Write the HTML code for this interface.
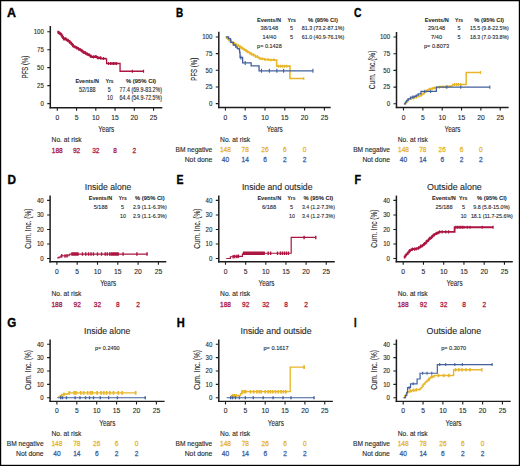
<!DOCTYPE html>
<html><head><meta charset="utf-8"><title>Figure</title>
<style>html,body{margin:0;padding:0;background:#fff;width:520px;height:466px;overflow:hidden}
svg{display:block;font-family:"Liberation Sans",sans-serif}</style></head>
<body>
<svg width="520" height="466" viewBox="0 0 520 466" font-family="Liberation Sans, sans-serif">
<rect x="0" y="0" width="520" height="466" fill="#fff"/>
<text x="7.00" y="17.00" font-size="12.2" textLength="9.00" lengthAdjust="spacingAndGlyphs" font-weight="bold" fill="#000" stroke="#000" stroke-width="0.35">A</text>
<path d="M50.30,26.00V108.38" stroke="#1c1c1c" stroke-width="1.5" fill="none"/>
<path d="M49.55,107.70H162.30" stroke="#1c1c1c" stroke-width="1.35" fill="none"/>
<path d="M47.30,103.60H50.30M47.30,85.64H50.30M47.30,67.67H50.30M47.30,49.71H50.30M47.30,31.75H50.30M57.30,107.70V110.70M76.55,107.70V110.70M95.80,107.70V110.70M115.05,107.70V110.70M134.30,107.70V110.70M153.55,107.70V110.70" stroke="#1c1c1c" stroke-width="1.1" fill="none"/>
<text x="43.90" y="105.90" font-size="6.5" text-anchor="end" stroke="#2a2a2a" stroke-width="0.12" textLength="3.40" lengthAdjust="spacingAndGlyphs" fill="#2a2a2a">0</text>
<text x="43.90" y="87.94" font-size="6.5" text-anchor="end" stroke="#2a2a2a" stroke-width="0.12" textLength="6.80" lengthAdjust="spacingAndGlyphs" fill="#2a2a2a">25</text>
<text x="43.90" y="69.97" font-size="6.5" text-anchor="end" stroke="#2a2a2a" stroke-width="0.12" textLength="6.80" lengthAdjust="spacingAndGlyphs" fill="#2a2a2a">50</text>
<text x="43.90" y="52.01" font-size="6.5" text-anchor="end" stroke="#2a2a2a" stroke-width="0.12" textLength="6.80" lengthAdjust="spacingAndGlyphs" fill="#2a2a2a">75</text>
<text x="43.90" y="34.05" font-size="6.5" text-anchor="end" stroke="#2a2a2a" stroke-width="0.12" textLength="10.20" lengthAdjust="spacingAndGlyphs" fill="#2a2a2a">100</text>
<text x="57.30" y="119.60" font-size="6.9" text-anchor="middle" stroke="#2a2a2a" stroke-width="0.12" textLength="3.75" lengthAdjust="spacingAndGlyphs" fill="#2a2a2a">0</text>
<text x="76.55" y="119.60" font-size="6.9" text-anchor="middle" stroke="#2a2a2a" stroke-width="0.12" textLength="3.75" lengthAdjust="spacingAndGlyphs" fill="#2a2a2a">5</text>
<text x="95.80" y="119.60" font-size="6.9" text-anchor="middle" stroke="#2a2a2a" stroke-width="0.12" textLength="7.50" lengthAdjust="spacingAndGlyphs" fill="#2a2a2a">10</text>
<text x="115.05" y="119.60" font-size="6.9" text-anchor="middle" stroke="#2a2a2a" stroke-width="0.12" textLength="7.50" lengthAdjust="spacingAndGlyphs" fill="#2a2a2a">15</text>
<text x="134.30" y="119.60" font-size="6.9" text-anchor="middle" stroke="#2a2a2a" stroke-width="0.12" textLength="7.50" lengthAdjust="spacingAndGlyphs" fill="#2a2a2a">20</text>
<text x="153.55" y="119.60" font-size="6.9" text-anchor="middle" stroke="#2a2a2a" stroke-width="0.12" textLength="7.50" lengthAdjust="spacingAndGlyphs" fill="#2a2a2a">25</text>
<text transform="translate(28.40,67.00) rotate(-90)" x="0" y="0" font-size="8.2" text-anchor="middle" stroke="#2a2a2a" stroke-width="0.12" textLength="22.60" lengthAdjust="spacingAndGlyphs" fill="#2a2a2a">PFS (%)</text>
<text x="106.30" y="131.60" font-size="9.8" text-anchor="middle" stroke="#2a2a2a" stroke-width="0.12" textLength="16.00" lengthAdjust="spacingAndGlyphs" fill="#2a2a2a">Years</text>
<text x="75.40" y="82.70" font-size="6.2" stroke="#2a2a2a" stroke-width="0.08" textLength="23.50" lengthAdjust="spacingAndGlyphs" font-weight="bold" fill="#2a2a2a">Events/N</text>
<text x="105.70" y="82.70" font-size="6.2" stroke="#2a2a2a" stroke-width="0.08" textLength="7.80" lengthAdjust="spacingAndGlyphs" font-weight="bold" fill="#2a2a2a">Yrs</text>
<text x="126.00" y="82.70" font-size="6.2" stroke="#2a2a2a" stroke-width="0.08" textLength="30.00" lengthAdjust="spacingAndGlyphs" font-weight="bold" fill="#2a2a2a">% (95% CI)</text>
<text x="78.90" y="91.60" font-size="6.3" stroke="#2a2a2a" stroke-width="0.12" textLength="16.70" lengthAdjust="spacingAndGlyphs" fill="#2a2a2a">52/188</text>
<text x="109.30" y="91.60" font-size="6.3" text-anchor="middle" stroke="#2a2a2a" stroke-width="0.12" textLength="3.00" lengthAdjust="spacingAndGlyphs" fill="#2a2a2a">5</text>
<text x="119.60" y="91.60" font-size="6.3" stroke="#2a2a2a" stroke-width="0.12" textLength="42.40" lengthAdjust="spacingAndGlyphs" fill="#2a2a2a">77.4 (69.9-83.2%)</text>
<text x="110.00" y="100.40" font-size="6.3" text-anchor="middle" stroke="#2a2a2a" stroke-width="0.12" textLength="5.80" lengthAdjust="spacingAndGlyphs" fill="#2a2a2a">10</text>
<text x="119.60" y="100.40" font-size="6.3" stroke="#2a2a2a" stroke-width="0.12" textLength="42.40" lengthAdjust="spacingAndGlyphs" fill="#2a2a2a">64.4 (54.9-72.5%)</text>
<path d="M57.30,31.75H58.17V32.70H59.03V32.99H59.90V33.84H60.77V34.34H61.53V35.51H62.30V36.78H63.07V38.22H63.84V39.00H64.61V39.35H65.38V38.69H66.16V39.64H66.92V39.65H67.79V40.82H68.66V40.81H69.52V42.27H70.39V42.72H71.26V43.99H72.12V44.67H72.99V46.09H73.85V46.55H74.72V46.88H75.59V47.10H76.45V47.98H77.32V48.21H78.19V48.78H79.05V49.96H79.92V49.65H80.78V50.43H81.66V50.87H82.55V51.75H83.42V52.60H84.30V52.19H85.19V53.18H86.06V53.44H86.94V54.24H87.87V54.36H88.79V55.11H89.72V55.44H90.64V56.60H91.56V57.04H92.49V56.67H93.41V57.05H94.34V56.45H95.26V56.49H96.19V56.90H97.11V57.69H98.03V57.98H98.96V58.21H99.88V57.68H100.81V58.55H106.58" fill="none" stroke="#AC1540" stroke-width="1.8" stroke-linejoin="miter" stroke-linecap="butt"/>
<path d="M58.45,31.20V34.20M59.61,31.49V34.49M61.15,32.84V35.84M62.30,35.28V38.28M63.84,37.50V40.50M65.38,37.19V40.19M66.54,38.14V41.14M68.08,39.32V42.32M69.62,40.77V43.77M71.55,42.49V45.49M73.08,44.59V47.59M75.01,45.38V48.38M76.55,46.48V49.48M78.47,47.28V50.28M80.40,48.15V51.15M81.94,49.37V52.37M83.86,51.10V54.10M85.41,51.68V54.68M87.33,52.74V55.74M89.25,53.61V56.61M91.18,55.10V58.10M93.49,55.55V58.55M95.80,54.99V57.99M98.11,56.48V59.48M100.42,56.18V59.18M103.50,57.05V60.05" fill="none" stroke="#AC1540" stroke-width="1.1"/>
<path d="M106.58,58.55H106.58V63.51H120.06V71.27H143.54" fill="none" stroke="#AC1540" stroke-width="1.3" stroke-linejoin="miter" stroke-linecap="butt"/>
<path d="M108.50,62.01V65.01M110.43,62.01V65.01M111.97,62.01V65.01M113.51,62.01V65.01M115.05,62.01V65.01M116.59,62.01V65.01M132.38,69.77V72.77M143.54,69.77V72.77" fill="none" stroke="#AC1540" stroke-width="1.2"/>
<text x="51.60" y="142.20" font-size="6.4" stroke="#2a2a2a" stroke-width="0.12" textLength="30.00" lengthAdjust="spacingAndGlyphs" fill="#2a2a2a">No. at risk</text>
<text x="57.30" y="152.50" font-size="7.3" text-anchor="middle" stroke="#AC1540" stroke-width="0.28" textLength="10.95" lengthAdjust="spacingAndGlyphs" fill="#AC1540">188</text>
<text x="76.55" y="152.50" font-size="7.3" text-anchor="middle" stroke="#AC1540" stroke-width="0.28" textLength="7.30" lengthAdjust="spacingAndGlyphs" fill="#AC1540">92</text>
<text x="95.80" y="152.50" font-size="7.3" text-anchor="middle" stroke="#AC1540" stroke-width="0.28" textLength="7.30" lengthAdjust="spacingAndGlyphs" fill="#AC1540">32</text>
<text x="115.05" y="152.50" font-size="7.3" text-anchor="middle" stroke="#AC1540" stroke-width="0.28" textLength="3.65" lengthAdjust="spacingAndGlyphs" fill="#AC1540">8</text>
<text x="134.30" y="152.50" font-size="7.3" text-anchor="middle" stroke="#AC1540" stroke-width="0.28" textLength="3.65" lengthAdjust="spacingAndGlyphs" fill="#AC1540">2</text>
<text x="176.10" y="17.00" font-size="12.2" textLength="7.20" lengthAdjust="spacingAndGlyphs" font-weight="bold" fill="#000" stroke="#000" stroke-width="0.35">B</text>
<path d="M218.80,31.80V108.17" stroke="#1c1c1c" stroke-width="1.5" fill="none"/>
<path d="M218.05,107.50H330.70" stroke="#1c1c1c" stroke-width="1.35" fill="none"/>
<path d="M215.80,103.60H218.80M215.80,86.95H218.80M215.80,70.30H218.80M215.80,53.65H218.80M215.80,37.00H218.80M225.40,107.50V110.50M245.20,107.50V110.50M265.00,107.50V110.50M284.80,107.50V110.50M304.60,107.50V110.50M324.40,107.50V110.50" stroke="#1c1c1c" stroke-width="1.1" fill="none"/>
<text x="212.40" y="105.90" font-size="6.5" text-anchor="end" stroke="#2a2a2a" stroke-width="0.12" textLength="3.40" lengthAdjust="spacingAndGlyphs" fill="#2a2a2a">0</text>
<text x="212.40" y="89.25" font-size="6.5" text-anchor="end" stroke="#2a2a2a" stroke-width="0.12" textLength="6.80" lengthAdjust="spacingAndGlyphs" fill="#2a2a2a">25</text>
<text x="212.40" y="72.60" font-size="6.5" text-anchor="end" stroke="#2a2a2a" stroke-width="0.12" textLength="6.80" lengthAdjust="spacingAndGlyphs" fill="#2a2a2a">50</text>
<text x="212.40" y="55.95" font-size="6.5" text-anchor="end" stroke="#2a2a2a" stroke-width="0.12" textLength="6.80" lengthAdjust="spacingAndGlyphs" fill="#2a2a2a">75</text>
<text x="212.40" y="39.30" font-size="6.5" text-anchor="end" stroke="#2a2a2a" stroke-width="0.12" textLength="10.20" lengthAdjust="spacingAndGlyphs" fill="#2a2a2a">100</text>
<text x="225.40" y="119.50" font-size="6.9" text-anchor="middle" stroke="#2a2a2a" stroke-width="0.12" textLength="3.75" lengthAdjust="spacingAndGlyphs" fill="#2a2a2a">0</text>
<text x="245.20" y="119.50" font-size="6.9" text-anchor="middle" stroke="#2a2a2a" stroke-width="0.12" textLength="3.75" lengthAdjust="spacingAndGlyphs" fill="#2a2a2a">5</text>
<text x="265.00" y="119.50" font-size="6.9" text-anchor="middle" stroke="#2a2a2a" stroke-width="0.12" textLength="7.50" lengthAdjust="spacingAndGlyphs" fill="#2a2a2a">10</text>
<text x="284.80" y="119.50" font-size="6.9" text-anchor="middle" stroke="#2a2a2a" stroke-width="0.12" textLength="7.50" lengthAdjust="spacingAndGlyphs" fill="#2a2a2a">15</text>
<text x="304.60" y="119.50" font-size="6.9" text-anchor="middle" stroke="#2a2a2a" stroke-width="0.12" textLength="7.50" lengthAdjust="spacingAndGlyphs" fill="#2a2a2a">20</text>
<text x="324.40" y="119.50" font-size="6.9" text-anchor="middle" stroke="#2a2a2a" stroke-width="0.12" textLength="7.50" lengthAdjust="spacingAndGlyphs" fill="#2a2a2a">25</text>
<text transform="translate(196.90,69.20) rotate(-90)" x="0" y="0" font-size="8.2" text-anchor="middle" stroke="#2a2a2a" stroke-width="0.12" textLength="22.90" lengthAdjust="spacingAndGlyphs" fill="#2a2a2a">PFS (%)</text>
<text x="274.75" y="132.10" font-size="9.8" text-anchor="middle" stroke="#2a2a2a" stroke-width="0.12" textLength="16.00" lengthAdjust="spacingAndGlyphs" fill="#2a2a2a">Years</text>
<text x="257.10" y="21.50" font-size="6.0" stroke="#2a2a2a" stroke-width="0.08" textLength="23.90" lengthAdjust="spacingAndGlyphs" font-weight="bold" fill="#2a2a2a">Events/N</text>
<text x="287.50" y="21.50" font-size="6.0" stroke="#2a2a2a" stroke-width="0.08" textLength="8.40" lengthAdjust="spacingAndGlyphs" font-weight="bold" fill="#2a2a2a">Yrs</text>
<text x="308.10" y="21.50" font-size="6.0" stroke="#2a2a2a" stroke-width="0.08" textLength="29.80" lengthAdjust="spacingAndGlyphs" font-weight="bold" fill="#2a2a2a">% (95% CI)</text>
<text x="260.60" y="30.00" font-size="5.8" stroke="#2a2a2a" stroke-width="0.12" textLength="17.50" lengthAdjust="spacingAndGlyphs" fill="#2a2a2a">38/148</text>
<text x="291.60" y="30.00" font-size="5.8" text-anchor="middle" stroke="#2a2a2a" stroke-width="0.12" textLength="3.00" lengthAdjust="spacingAndGlyphs" fill="#2a2a2a">5</text>
<text x="301.80" y="30.00" font-size="5.8" stroke="#2a2a2a" stroke-width="0.12" textLength="42.50" lengthAdjust="spacingAndGlyphs" fill="#2a2a2a">81.3 (73.2-87.1%)</text>
<text x="262.50" y="38.60" font-size="5.8" stroke="#2a2a2a" stroke-width="0.12" textLength="13.70" lengthAdjust="spacingAndGlyphs" fill="#2a2a2a">14/40</text>
<text x="291.60" y="38.60" font-size="5.8" text-anchor="middle" stroke="#2a2a2a" stroke-width="0.12" textLength="3.00" lengthAdjust="spacingAndGlyphs" fill="#2a2a2a">5</text>
<text x="301.80" y="38.60" font-size="5.8" stroke="#2a2a2a" stroke-width="0.12" textLength="42.50" lengthAdjust="spacingAndGlyphs" fill="#2a2a2a">61.0 (40.9-76.1%)</text>
<text x="257.10" y="47.80" font-size="5.8" stroke="#2a2a2a" stroke-width="0.12" textLength="24.60" lengthAdjust="spacingAndGlyphs" fill="#2a2a2a">p= 0.1428</text>
<path d="M225.40,37.00H226.59V38.09H227.78V39.08H228.96V40.28H230.15V41.26H231.34V42.33H232.66V43.04H233.98V43.72H235.30V44.33H236.43V45.01H237.56V45.72H238.69V46.31H239.83V47.11H240.96V47.72H242.09V48.47H243.22V49.32H244.47V49.90H245.73V50.81H246.98V51.79H248.24V52.28H249.49V53.02H250.74V53.98H251.88V54.38H253.02V55.07H254.16V55.57H255.30V56.33H256.44V56.64H257.57V57.30H258.71V57.97H259.85V58.45H261.12V58.86H262.39V58.78H263.65V58.97H264.92V59.57H266.19V59.64H267.35V59.58H268.52V59.78H269.69V59.94H270.85V59.93H272.02V59.80H273.18V59.81H274.35V60.19H275.52V60.01H276.68V60.11H276.68V66.17H289.95V78.49H303.81" fill="none" stroke="#E8B62A" stroke-width="1.6" stroke-linejoin="miter" stroke-linecap="butt"/>
<path d="M227.38,36.59V39.59M229.36,38.78V41.78M230.94,39.76V42.76M232.92,41.54V44.54M234.51,42.22V45.22M236.49,43.51V46.51M238.47,44.22V47.22M240.45,45.61V48.61M242.03,46.22V49.22M244.01,47.82V50.82M245.99,49.31V52.31M247.58,50.29V53.29M249.56,51.52V54.52M251.54,52.48V55.48M253.52,53.57V56.57M255.50,54.83V57.83M257.48,55.14V58.14M259.85,56.95V59.95M262.23,57.36V60.36M265.00,58.07V61.07M268.17,58.08V61.08M270.94,58.43V61.43M273.71,58.31V61.31M278.46,64.67V67.67M280.44,64.67V67.67M282.42,64.67V67.67M284.40,64.67V67.67M286.78,64.67V67.67M303.81,76.99V79.99" fill="none" stroke="#E8B62A" stroke-width="1.1"/>
<path d="M226.31,37.00H228.57V38.66H230.55V39.93H230.75V42.39H233.32V44.99H235.30V45.39H235.70V47.19H237.28V48.65H239.26V50.19H239.66V52.72H240.05V57.51H242.63V62.97H251.14V65.97H259.06V70.83H312.92" fill="none" stroke="#41609E" stroke-width="1.3" stroke-linejoin="miter" stroke-linecap="butt"/>
<path d="M240.84,55.51V59.51M245.20,60.97V64.97M261.44,68.83V72.83M269.36,68.83V72.83M276.88,68.83V72.83M283.61,68.83V72.83M312.92,68.83V72.83" fill="none" stroke="#41609E" stroke-width="1.1"/>
<text x="220.10" y="142.20" font-size="6.4" stroke="#2a2a2a" stroke-width="0.12" textLength="30.00" lengthAdjust="spacingAndGlyphs" fill="#2a2a2a">No. at risk</text>
<text x="212.30" y="152.30" font-size="6.4" text-anchor="end" stroke="#2a2a2a" stroke-width="0.12" textLength="36.80" lengthAdjust="spacingAndGlyphs" fill="#2a2a2a">BM negative</text>
<text x="225.40" y="152.30" font-size="7.3" text-anchor="middle" stroke="#E8B62A" stroke-width="0.28" textLength="10.95" lengthAdjust="spacingAndGlyphs" fill="#E8B62A">148</text>
<text x="245.20" y="152.30" font-size="7.3" text-anchor="middle" stroke="#E8B62A" stroke-width="0.28" textLength="7.30" lengthAdjust="spacingAndGlyphs" fill="#E8B62A">78</text>
<text x="265.00" y="152.30" font-size="7.3" text-anchor="middle" stroke="#E8B62A" stroke-width="0.28" textLength="7.30" lengthAdjust="spacingAndGlyphs" fill="#E8B62A">26</text>
<text x="284.80" y="152.30" font-size="7.3" text-anchor="middle" stroke="#E8B62A" stroke-width="0.28" textLength="3.65" lengthAdjust="spacingAndGlyphs" fill="#E8B62A">6</text>
<text x="304.60" y="152.30" font-size="7.3" text-anchor="middle" stroke="#E8B62A" stroke-width="0.28" textLength="3.65" lengthAdjust="spacingAndGlyphs" fill="#E8B62A">0</text>
<text x="212.30" y="162.15" font-size="6.4" text-anchor="end" stroke="#2a2a2a" stroke-width="0.12" textLength="27.60" lengthAdjust="spacingAndGlyphs" fill="#2a2a2a">Not done</text>
<text x="225.40" y="162.15" font-size="7.3" text-anchor="middle" stroke="#41609E" stroke-width="0.28" textLength="7.30" lengthAdjust="spacingAndGlyphs" fill="#41609E">40</text>
<text x="245.20" y="162.15" font-size="7.3" text-anchor="middle" stroke="#41609E" stroke-width="0.28" textLength="7.30" lengthAdjust="spacingAndGlyphs" fill="#41609E">14</text>
<text x="265.00" y="162.15" font-size="7.3" text-anchor="middle" stroke="#41609E" stroke-width="0.28" textLength="3.65" lengthAdjust="spacingAndGlyphs" fill="#41609E">6</text>
<text x="284.80" y="162.15" font-size="7.3" text-anchor="middle" stroke="#41609E" stroke-width="0.28" textLength="3.65" lengthAdjust="spacingAndGlyphs" fill="#41609E">2</text>
<text x="304.60" y="162.15" font-size="7.3" text-anchor="middle" stroke="#41609E" stroke-width="0.28" textLength="3.65" lengthAdjust="spacingAndGlyphs" fill="#41609E">2</text>
<text x="353.90" y="17.00" font-size="12.2" textLength="7.50" lengthAdjust="spacingAndGlyphs" font-weight="bold" fill="#000" stroke="#000" stroke-width="0.35">C</text>
<path d="M396.50,32.00V108.17" stroke="#1c1c1c" stroke-width="1.5" fill="none"/>
<path d="M395.75,107.50H508.60" stroke="#1c1c1c" stroke-width="1.35" fill="none"/>
<path d="M393.50,103.80H396.50M393.50,87.10H396.50M393.50,70.40H396.50M393.50,53.70H396.50M393.50,37.00H396.50M403.50,107.50V110.50M422.85,107.50V110.50M442.20,107.50V110.50M461.55,107.50V110.50M480.90,107.50V110.50M500.25,107.50V110.50" stroke="#1c1c1c" stroke-width="1.1" fill="none"/>
<text x="390.10" y="106.10" font-size="6.5" text-anchor="end" stroke="#2a2a2a" stroke-width="0.12" textLength="3.40" lengthAdjust="spacingAndGlyphs" fill="#2a2a2a">0</text>
<text x="390.10" y="89.40" font-size="6.5" text-anchor="end" stroke="#2a2a2a" stroke-width="0.12" textLength="6.80" lengthAdjust="spacingAndGlyphs" fill="#2a2a2a">25</text>
<text x="390.10" y="72.70" font-size="6.5" text-anchor="end" stroke="#2a2a2a" stroke-width="0.12" textLength="6.80" lengthAdjust="spacingAndGlyphs" fill="#2a2a2a">50</text>
<text x="390.10" y="56.00" font-size="6.5" text-anchor="end" stroke="#2a2a2a" stroke-width="0.12" textLength="6.80" lengthAdjust="spacingAndGlyphs" fill="#2a2a2a">75</text>
<text x="390.10" y="39.30" font-size="6.5" text-anchor="end" stroke="#2a2a2a" stroke-width="0.12" textLength="10.20" lengthAdjust="spacingAndGlyphs" fill="#2a2a2a">100</text>
<text x="403.50" y="119.50" font-size="6.9" text-anchor="middle" stroke="#2a2a2a" stroke-width="0.12" textLength="3.75" lengthAdjust="spacingAndGlyphs" fill="#2a2a2a">0</text>
<text x="422.85" y="119.50" font-size="6.9" text-anchor="middle" stroke="#2a2a2a" stroke-width="0.12" textLength="3.75" lengthAdjust="spacingAndGlyphs" fill="#2a2a2a">5</text>
<text x="442.20" y="119.50" font-size="6.9" text-anchor="middle" stroke="#2a2a2a" stroke-width="0.12" textLength="7.50" lengthAdjust="spacingAndGlyphs" fill="#2a2a2a">10</text>
<text x="461.55" y="119.50" font-size="6.9" text-anchor="middle" stroke="#2a2a2a" stroke-width="0.12" textLength="7.50" lengthAdjust="spacingAndGlyphs" fill="#2a2a2a">15</text>
<text x="480.90" y="119.50" font-size="6.9" text-anchor="middle" stroke="#2a2a2a" stroke-width="0.12" textLength="7.50" lengthAdjust="spacingAndGlyphs" fill="#2a2a2a">20</text>
<text x="500.25" y="119.50" font-size="6.9" text-anchor="middle" stroke="#2a2a2a" stroke-width="0.12" textLength="7.50" lengthAdjust="spacingAndGlyphs" fill="#2a2a2a">25</text>
<text transform="translate(374.50,69.90) rotate(-90)" x="0" y="0" font-size="8.2" text-anchor="middle" stroke="#2a2a2a" stroke-width="0.12" textLength="38.70" lengthAdjust="spacingAndGlyphs" fill="#2a2a2a">Cum. Inc.(%)</text>
<text x="452.55" y="132.10" font-size="9.8" text-anchor="middle" stroke="#2a2a2a" stroke-width="0.12" textLength="16.00" lengthAdjust="spacingAndGlyphs" fill="#2a2a2a">Years</text>
<text x="424.80" y="21.50" font-size="6.0" stroke="#2a2a2a" stroke-width="0.08" textLength="24.00" lengthAdjust="spacingAndGlyphs" font-weight="bold" fill="#2a2a2a">Events/N</text>
<text x="455.10" y="21.50" font-size="6.0" stroke="#2a2a2a" stroke-width="0.08" textLength="8.00" lengthAdjust="spacingAndGlyphs" font-weight="bold" fill="#2a2a2a">Yrs</text>
<text x="474.20" y="21.50" font-size="6.0" stroke="#2a2a2a" stroke-width="0.08" textLength="29.80" lengthAdjust="spacingAndGlyphs" font-weight="bold" fill="#2a2a2a">% (95% CI)</text>
<text x="427.90" y="30.00" font-size="5.8" stroke="#2a2a2a" stroke-width="0.12" textLength="17.30" lengthAdjust="spacingAndGlyphs" fill="#2a2a2a">29/148</text>
<text x="458.90" y="30.00" font-size="5.8" text-anchor="middle" stroke="#2a2a2a" stroke-width="0.12" textLength="3.00" lengthAdjust="spacingAndGlyphs" fill="#2a2a2a">5</text>
<text x="470.00" y="30.00" font-size="5.8" stroke="#2a2a2a" stroke-width="0.12" textLength="38.80" lengthAdjust="spacingAndGlyphs" fill="#2a2a2a">15.5 (9.8-22.5%)</text>
<text x="431.10" y="38.60" font-size="5.8" stroke="#2a2a2a" stroke-width="0.12" textLength="11.00" lengthAdjust="spacingAndGlyphs" fill="#2a2a2a">7/40</text>
<text x="458.90" y="38.60" font-size="5.8" text-anchor="middle" stroke="#2a2a2a" stroke-width="0.12" textLength="3.00" lengthAdjust="spacingAndGlyphs" fill="#2a2a2a">5</text>
<text x="470.00" y="38.60" font-size="5.8" stroke="#2a2a2a" stroke-width="0.12" textLength="38.80" lengthAdjust="spacingAndGlyphs" fill="#2a2a2a">18.3 (7.0-33.8%)</text>
<text x="424.00" y="47.80" font-size="5.8" stroke="#2a2a2a" stroke-width="0.12" textLength="25.00" lengthAdjust="spacingAndGlyphs" fill="#2a2a2a">p= 0.8073</text>
<path d="M403.89,103.80H404.82V103.45H405.76V101.90H406.69V101.48H407.63V100.05H408.56V99.11H409.50V98.79H410.45V98.48H411.40V97.64H412.35V98.07H413.30V98.02H414.26V97.15H415.21V97.45H416.16V96.97H417.11V96.44H418.06V95.92H419.01V96.10H419.96V95.91H420.92V95.12H421.88V94.00H422.85V93.88H423.82V92.47H424.79V91.82H425.75V91.66H426.72V90.85H427.69V90.07H428.65V89.37H429.62V88.99H430.59V88.81H431.56V88.63H432.52V88.33H433.49V87.76H434.46V88.00H435.43V87.85H436.39V87.32H437.36V87.61H438.33V87.10H439.28V87.24H440.24V86.45H441.19V86.86H442.15V86.76H443.10V87.27H444.06V86.76H445.01V86.52H445.97V87.04H446.92V86.33H447.88V86.25H448.83V86.79H449.79V86.11H450.74V86.21H451.69V85.91H452.65V86.03H452.65V84.43H466.19V72.40H480.51" fill="none" stroke="#E8B62A" stroke-width="1.5" stroke-linejoin="miter" stroke-linecap="butt"/>
<path d="M408.14,98.55V101.55M411.24,96.98V99.98M413.56,96.52V99.52M416.27,95.47V98.47M418.98,94.42V97.42M422.08,92.50V95.50M424.40,90.97V93.97M426.72,89.35V92.35M429.82,87.49V90.49M432.14,87.13V90.13M434.46,86.50V89.50M439.49,85.74V88.74M442.97,85.26V88.26M446.07,85.54V88.54M454.58,82.93V85.93M456.52,82.93V85.93M458.45,82.93V85.93M460.78,82.93V85.93M480.51,70.90V73.90" fill="none" stroke="#E8B62A" stroke-width="1.1"/>
<path d="M403.89,103.80H405.44V102.13H406.60V100.46H408.14V98.79H410.47V97.12H414.34V96.25H416.27V95.12H418.21V93.78H420.92V91.31H436.39V87.10H489.80" fill="none" stroke="#41609E" stroke-width="1.3" stroke-linejoin="miter" stroke-linecap="butt"/>
<path d="M412.79,95.52V98.72M424.79,89.71V92.91M430.59,89.71V92.91M446.84,85.50V88.70M460.78,85.50V88.70M489.80,85.50V88.70" fill="none" stroke="#41609E" stroke-width="1.1"/>
<text x="397.80" y="142.20" font-size="6.4" stroke="#2a2a2a" stroke-width="0.12" textLength="30.00" lengthAdjust="spacingAndGlyphs" fill="#2a2a2a">No. at risk</text>
<text x="390.00" y="152.30" font-size="6.4" text-anchor="end" stroke="#2a2a2a" stroke-width="0.12" textLength="36.80" lengthAdjust="spacingAndGlyphs" fill="#2a2a2a">BM negative</text>
<text x="403.50" y="152.30" font-size="7.3" text-anchor="middle" stroke="#E8B62A" stroke-width="0.28" textLength="10.95" lengthAdjust="spacingAndGlyphs" fill="#E8B62A">148</text>
<text x="422.85" y="152.30" font-size="7.3" text-anchor="middle" stroke="#E8B62A" stroke-width="0.28" textLength="7.30" lengthAdjust="spacingAndGlyphs" fill="#E8B62A">78</text>
<text x="442.20" y="152.30" font-size="7.3" text-anchor="middle" stroke="#E8B62A" stroke-width="0.28" textLength="7.30" lengthAdjust="spacingAndGlyphs" fill="#E8B62A">26</text>
<text x="461.55" y="152.30" font-size="7.3" text-anchor="middle" stroke="#E8B62A" stroke-width="0.28" textLength="3.65" lengthAdjust="spacingAndGlyphs" fill="#E8B62A">6</text>
<text x="480.90" y="152.30" font-size="7.3" text-anchor="middle" stroke="#E8B62A" stroke-width="0.28" textLength="3.65" lengthAdjust="spacingAndGlyphs" fill="#E8B62A">0</text>
<text x="390.00" y="162.15" font-size="6.4" text-anchor="end" stroke="#2a2a2a" stroke-width="0.12" textLength="27.60" lengthAdjust="spacingAndGlyphs" fill="#2a2a2a">Not done</text>
<text x="403.50" y="162.15" font-size="7.3" text-anchor="middle" stroke="#41609E" stroke-width="0.28" textLength="7.30" lengthAdjust="spacingAndGlyphs" fill="#41609E">40</text>
<text x="422.85" y="162.15" font-size="7.3" text-anchor="middle" stroke="#41609E" stroke-width="0.28" textLength="7.30" lengthAdjust="spacingAndGlyphs" fill="#41609E">14</text>
<text x="442.20" y="162.15" font-size="7.3" text-anchor="middle" stroke="#41609E" stroke-width="0.28" textLength="3.65" lengthAdjust="spacingAndGlyphs" fill="#41609E">6</text>
<text x="461.55" y="162.15" font-size="7.3" text-anchor="middle" stroke="#41609E" stroke-width="0.28" textLength="3.65" lengthAdjust="spacingAndGlyphs" fill="#41609E">2</text>
<text x="480.90" y="162.15" font-size="7.3" text-anchor="middle" stroke="#41609E" stroke-width="0.28" textLength="3.65" lengthAdjust="spacingAndGlyphs" fill="#41609E">2</text>
<text x="7.40" y="183.50" font-size="12.2" textLength="8.50" lengthAdjust="spacingAndGlyphs" font-weight="bold" fill="#000" stroke="#000" stroke-width="0.35">D</text>
<text x="84.80" y="190.30" font-size="8.5" stroke="#2a2a2a" stroke-width="0.12" textLength="46.50" lengthAdjust="spacingAndGlyphs" fill="#2a2a2a">Inside alone</text>
<path d="M50.10,195.60V262.38" stroke="#1c1c1c" stroke-width="1.5" fill="none"/>
<path d="M49.35,261.70H166.30" stroke="#1c1c1c" stroke-width="1.35" fill="none"/>
<path d="M47.10,258.50H50.10M47.10,243.97H50.10M47.10,229.45H50.10M47.10,214.93H50.10M47.10,200.40H50.10M56.90,261.70V264.70M77.20,261.70V264.70M97.50,261.70V264.70M117.80,261.70V264.70M138.10,261.70V264.70M158.40,261.70V264.70" stroke="#1c1c1c" stroke-width="1.1" fill="none"/>
<text x="43.70" y="260.80" font-size="6.5" text-anchor="end" stroke="#2a2a2a" stroke-width="0.12" textLength="3.40" lengthAdjust="spacingAndGlyphs" fill="#2a2a2a">0</text>
<text x="43.70" y="246.28" font-size="6.5" text-anchor="end" stroke="#2a2a2a" stroke-width="0.12" textLength="6.80" lengthAdjust="spacingAndGlyphs" fill="#2a2a2a">10</text>
<text x="43.70" y="231.75" font-size="6.5" text-anchor="end" stroke="#2a2a2a" stroke-width="0.12" textLength="6.80" lengthAdjust="spacingAndGlyphs" fill="#2a2a2a">20</text>
<text x="43.70" y="217.23" font-size="6.5" text-anchor="end" stroke="#2a2a2a" stroke-width="0.12" textLength="6.80" lengthAdjust="spacingAndGlyphs" fill="#2a2a2a">30</text>
<text x="43.70" y="202.70" font-size="6.5" text-anchor="end" stroke="#2a2a2a" stroke-width="0.12" textLength="6.80" lengthAdjust="spacingAndGlyphs" fill="#2a2a2a">40</text>
<text x="56.90" y="273.80" font-size="6.9" text-anchor="middle" stroke="#2a2a2a" stroke-width="0.12" textLength="3.75" lengthAdjust="spacingAndGlyphs" fill="#2a2a2a">0</text>
<text x="77.20" y="273.80" font-size="6.9" text-anchor="middle" stroke="#2a2a2a" stroke-width="0.12" textLength="3.75" lengthAdjust="spacingAndGlyphs" fill="#2a2a2a">5</text>
<text x="97.50" y="273.80" font-size="6.9" text-anchor="middle" stroke="#2a2a2a" stroke-width="0.12" textLength="7.50" lengthAdjust="spacingAndGlyphs" fill="#2a2a2a">10</text>
<text x="117.80" y="273.80" font-size="6.9" text-anchor="middle" stroke="#2a2a2a" stroke-width="0.12" textLength="7.50" lengthAdjust="spacingAndGlyphs" fill="#2a2a2a">15</text>
<text x="138.10" y="273.80" font-size="6.9" text-anchor="middle" stroke="#2a2a2a" stroke-width="0.12" textLength="7.50" lengthAdjust="spacingAndGlyphs" fill="#2a2a2a">20</text>
<text x="158.40" y="273.80" font-size="6.9" text-anchor="middle" stroke="#2a2a2a" stroke-width="0.12" textLength="7.50" lengthAdjust="spacingAndGlyphs" fill="#2a2a2a">25</text>
<text transform="translate(31.20,228.60) rotate(-90)" x="0" y="0" font-size="8.2" text-anchor="middle" stroke="#2a2a2a" stroke-width="0.12" textLength="40.20" lengthAdjust="spacingAndGlyphs" fill="#2a2a2a">Cum. Inc. (%)</text>
<text x="108.20" y="286.40" font-size="9.8" text-anchor="middle" stroke="#2a2a2a" stroke-width="0.12" textLength="16.00" lengthAdjust="spacingAndGlyphs" fill="#2a2a2a">Years</text>
<text x="88.80" y="200.20" font-size="6.0" stroke="#2a2a2a" stroke-width="0.08" textLength="23.30" lengthAdjust="spacingAndGlyphs" font-weight="bold" fill="#2a2a2a">Events/N</text>
<text x="118.80" y="200.20" font-size="6.0" stroke="#2a2a2a" stroke-width="0.08" textLength="8.00" lengthAdjust="spacingAndGlyphs" font-weight="bold" fill="#2a2a2a">Yrs</text>
<text x="135.10" y="200.20" font-size="6.0" stroke="#2a2a2a" stroke-width="0.08" textLength="29.50" lengthAdjust="spacingAndGlyphs" font-weight="bold" fill="#2a2a2a">% (95% CI)</text>
<text x="93.70" y="209.00" font-size="6.0" stroke="#2a2a2a" stroke-width="0.12" textLength="13.90" lengthAdjust="spacingAndGlyphs" fill="#2a2a2a">5/188</text>
<text x="122.60" y="209.00" font-size="6.0" text-anchor="middle" stroke="#2a2a2a" stroke-width="0.12" textLength="3.00" lengthAdjust="spacingAndGlyphs" fill="#2a2a2a">5</text>
<text x="132.90" y="209.00" font-size="6.0" stroke="#2a2a2a" stroke-width="0.12" textLength="33.90" lengthAdjust="spacingAndGlyphs" fill="#2a2a2a">2.9 (1.1-6.3%)</text>
<text x="123.00" y="217.50" font-size="6.0" text-anchor="middle" stroke="#2a2a2a" stroke-width="0.12" textLength="5.80" lengthAdjust="spacingAndGlyphs" fill="#2a2a2a">10</text>
<text x="132.90" y="217.50" font-size="6.0" stroke="#2a2a2a" stroke-width="0.12" textLength="33.90" lengthAdjust="spacingAndGlyphs" fill="#2a2a2a">2.9 (1.1-6.3%)</text>
<path d="M57.18,257.92H58.93V257.05H60.96V255.74H64.21V255.89H67.05V255.74H69.08V254.72H69.89V254.07H147.44" fill="none" stroke="#AC1540" stroke-width="1.2" stroke-linejoin="miter" stroke-linecap="butt"/>
<path d="M61.77,253.99V257.49M65.02,254.14V257.64M67.05,253.99V257.49M71.92,252.32V255.82M72.53,252.32V255.82M73.14,252.32V255.82M73.75,252.32V255.82M74.36,252.32V255.82M74.97,252.32V255.82M75.58,252.32V255.82M76.19,252.32V255.82M76.79,252.32V255.82M77.40,252.32V255.82M78.01,252.32V255.82M82.48,252.32V255.82M85.73,252.32V255.82M88.57,252.32V255.82M91.00,252.32V255.82M93.44,252.32V255.82M97.50,252.32V255.82M101.56,252.32V255.82M105.21,252.32V255.82M107.24,252.32V255.82M109.68,252.32V255.82M111.30,252.32V255.82M112.52,252.32V255.82M113.74,252.32V255.82M114.96,252.32V255.82M116.18,252.32V255.82M117.39,252.32V255.82M118.21,252.32V255.82M123.08,252.32V255.82M136.88,252.32V255.82M147.03,252.32V255.82" fill="none" stroke="#AC1540" stroke-width="1.4"/>
<text x="51.40" y="296.30" font-size="6.4" stroke="#2a2a2a" stroke-width="0.12" textLength="30.00" lengthAdjust="spacingAndGlyphs" fill="#2a2a2a">No. at risk</text>
<text x="56.90" y="306.70" font-size="7.3" text-anchor="middle" stroke="#AC1540" stroke-width="0.28" textLength="10.95" lengthAdjust="spacingAndGlyphs" fill="#AC1540">188</text>
<text x="77.20" y="306.70" font-size="7.3" text-anchor="middle" stroke="#AC1540" stroke-width="0.28" textLength="7.30" lengthAdjust="spacingAndGlyphs" fill="#AC1540">92</text>
<text x="97.50" y="306.70" font-size="7.3" text-anchor="middle" stroke="#AC1540" stroke-width="0.28" textLength="7.30" lengthAdjust="spacingAndGlyphs" fill="#AC1540">32</text>
<text x="117.80" y="306.70" font-size="7.3" text-anchor="middle" stroke="#AC1540" stroke-width="0.28" textLength="3.65" lengthAdjust="spacingAndGlyphs" fill="#AC1540">8</text>
<text x="138.10" y="306.70" font-size="7.3" text-anchor="middle" stroke="#AC1540" stroke-width="0.28" textLength="3.65" lengthAdjust="spacingAndGlyphs" fill="#AC1540">2</text>
<text x="176.60" y="183.50" font-size="12.2" textLength="7.00" lengthAdjust="spacingAndGlyphs" font-weight="bold" fill="#000" stroke="#000" stroke-width="0.35">E</text>
<text x="241.90" y="190.30" font-size="8.5" stroke="#2a2a2a" stroke-width="0.12" textLength="70.60" lengthAdjust="spacingAndGlyphs" fill="#2a2a2a">Inside and outside</text>
<path d="M218.80,195.60V262.38" stroke="#1c1c1c" stroke-width="1.5" fill="none"/>
<path d="M218.05,261.70H334.80" stroke="#1c1c1c" stroke-width="1.35" fill="none"/>
<path d="M215.80,258.50H218.80M215.80,243.97H218.80M215.80,229.45H218.80M215.80,214.93H218.80M215.80,200.40H218.80M225.50,261.70V264.70M245.65,261.70V264.70M265.80,261.70V264.70M285.95,261.70V264.70M306.10,261.70V264.70M326.25,261.70V264.70" stroke="#1c1c1c" stroke-width="1.1" fill="none"/>
<text x="212.40" y="260.80" font-size="6.5" text-anchor="end" stroke="#2a2a2a" stroke-width="0.12" textLength="3.40" lengthAdjust="spacingAndGlyphs" fill="#2a2a2a">0</text>
<text x="212.40" y="246.28" font-size="6.5" text-anchor="end" stroke="#2a2a2a" stroke-width="0.12" textLength="6.80" lengthAdjust="spacingAndGlyphs" fill="#2a2a2a">10</text>
<text x="212.40" y="231.75" font-size="6.5" text-anchor="end" stroke="#2a2a2a" stroke-width="0.12" textLength="6.80" lengthAdjust="spacingAndGlyphs" fill="#2a2a2a">20</text>
<text x="212.40" y="217.23" font-size="6.5" text-anchor="end" stroke="#2a2a2a" stroke-width="0.12" textLength="6.80" lengthAdjust="spacingAndGlyphs" fill="#2a2a2a">30</text>
<text x="212.40" y="202.70" font-size="6.5" text-anchor="end" stroke="#2a2a2a" stroke-width="0.12" textLength="6.80" lengthAdjust="spacingAndGlyphs" fill="#2a2a2a">40</text>
<text x="225.50" y="273.80" font-size="6.9" text-anchor="middle" stroke="#2a2a2a" stroke-width="0.12" textLength="3.75" lengthAdjust="spacingAndGlyphs" fill="#2a2a2a">0</text>
<text x="245.65" y="273.80" font-size="6.9" text-anchor="middle" stroke="#2a2a2a" stroke-width="0.12" textLength="3.75" lengthAdjust="spacingAndGlyphs" fill="#2a2a2a">5</text>
<text x="265.80" y="273.80" font-size="6.9" text-anchor="middle" stroke="#2a2a2a" stroke-width="0.12" textLength="7.50" lengthAdjust="spacingAndGlyphs" fill="#2a2a2a">10</text>
<text x="285.95" y="273.80" font-size="6.9" text-anchor="middle" stroke="#2a2a2a" stroke-width="0.12" textLength="7.50" lengthAdjust="spacingAndGlyphs" fill="#2a2a2a">15</text>
<text x="306.10" y="273.80" font-size="6.9" text-anchor="middle" stroke="#2a2a2a" stroke-width="0.12" textLength="7.50" lengthAdjust="spacingAndGlyphs" fill="#2a2a2a">20</text>
<text x="326.25" y="273.80" font-size="6.9" text-anchor="middle" stroke="#2a2a2a" stroke-width="0.12" textLength="7.50" lengthAdjust="spacingAndGlyphs" fill="#2a2a2a">25</text>
<text transform="translate(199.80,228.60) rotate(-90)" x="0" y="0" font-size="8.2" text-anchor="middle" stroke="#2a2a2a" stroke-width="0.12" textLength="40.20" lengthAdjust="spacingAndGlyphs" fill="#2a2a2a">Cum. Inc. (%)</text>
<text x="266.50" y="286.40" font-size="9.8" text-anchor="middle" stroke="#2a2a2a" stroke-width="0.12" textLength="16.00" lengthAdjust="spacingAndGlyphs" fill="#2a2a2a">Years</text>
<text x="257.40" y="200.40" font-size="6.0" stroke="#2a2a2a" stroke-width="0.08" textLength="23.80" lengthAdjust="spacingAndGlyphs" font-weight="bold" fill="#2a2a2a">Events/N</text>
<text x="287.50" y="200.40" font-size="6.0" stroke="#2a2a2a" stroke-width="0.08" textLength="7.90" lengthAdjust="spacingAndGlyphs" font-weight="bold" fill="#2a2a2a">Yrs</text>
<text x="303.50" y="200.40" font-size="6.0" stroke="#2a2a2a" stroke-width="0.08" textLength="29.80" lengthAdjust="spacingAndGlyphs" font-weight="bold" fill="#2a2a2a">% (95% CI)</text>
<text x="261.90" y="209.00" font-size="6.0" stroke="#2a2a2a" stroke-width="0.12" textLength="14.30" lengthAdjust="spacingAndGlyphs" fill="#2a2a2a">6/188</text>
<text x="291.50" y="209.00" font-size="6.0" text-anchor="middle" stroke="#2a2a2a" stroke-width="0.12" textLength="3.00" lengthAdjust="spacingAndGlyphs" fill="#2a2a2a">5</text>
<text x="301.90" y="209.00" font-size="6.0" stroke="#2a2a2a" stroke-width="0.12" textLength="33.00" lengthAdjust="spacingAndGlyphs" fill="#2a2a2a">3.4 (1.2-7.3%)</text>
<text x="292.00" y="217.50" font-size="6.0" text-anchor="middle" stroke="#2a2a2a" stroke-width="0.12" textLength="5.80" lengthAdjust="spacingAndGlyphs" fill="#2a2a2a">10</text>
<text x="301.90" y="217.50" font-size="6.0" stroke="#2a2a2a" stroke-width="0.12" textLength="33.00" lengthAdjust="spacingAndGlyphs" fill="#2a2a2a">3.4 (1.2-7.3%)</text>
<path d="M226.31,258.50H230.34V256.76H233.56V256.47H237.59V256.32H242.43V254.14H243.23V253.27H291.19H291.19V237.44H315.77" fill="none" stroke="#AC1540" stroke-width="1.2" stroke-linejoin="miter" stroke-linecap="butt"/>
<path d="M233.16,255.01V258.51M234.77,254.72V258.22M236.78,254.72V258.22M238.40,254.57V258.07M243.63,251.52V255.02M244.84,251.52V255.02M246.05,251.52V255.02M247.26,251.52V255.02M248.47,251.52V255.02M249.68,251.52V255.02M250.89,251.52V255.02M252.10,251.52V255.02M253.31,251.52V255.02M254.52,251.52V255.02M255.72,251.52V255.02M256.93,251.52V255.02M258.14,251.52V255.02M259.35,251.52V255.02M260.56,251.52V255.02M261.77,251.52V255.02M262.98,251.52V255.02M264.19,251.52V255.02M268.22,251.52V255.02M270.64,251.52V255.02M277.49,251.52V255.02M280.31,251.52V255.02M282.32,251.52V255.02M284.34,251.52V255.02M286.35,251.52V255.02M288.37,251.52V255.02M304.09,235.69V239.19M315.77,235.69V239.19" fill="none" stroke="#AC1540" stroke-width="1.4"/>
<text x="220.10" y="296.30" font-size="6.4" stroke="#2a2a2a" stroke-width="0.12" textLength="30.00" lengthAdjust="spacingAndGlyphs" fill="#2a2a2a">No. at risk</text>
<text x="225.50" y="306.70" font-size="7.3" text-anchor="middle" stroke="#AC1540" stroke-width="0.28" textLength="10.95" lengthAdjust="spacingAndGlyphs" fill="#AC1540">188</text>
<text x="245.65" y="306.70" font-size="7.3" text-anchor="middle" stroke="#AC1540" stroke-width="0.28" textLength="7.30" lengthAdjust="spacingAndGlyphs" fill="#AC1540">92</text>
<text x="265.80" y="306.70" font-size="7.3" text-anchor="middle" stroke="#AC1540" stroke-width="0.28" textLength="7.30" lengthAdjust="spacingAndGlyphs" fill="#AC1540">32</text>
<text x="285.95" y="306.70" font-size="7.3" text-anchor="middle" stroke="#AC1540" stroke-width="0.28" textLength="3.65" lengthAdjust="spacingAndGlyphs" fill="#AC1540">8</text>
<text x="306.10" y="306.70" font-size="7.3" text-anchor="middle" stroke="#AC1540" stroke-width="0.28" textLength="3.65" lengthAdjust="spacingAndGlyphs" fill="#AC1540">2</text>
<text x="354.40" y="183.50" font-size="12.2" textLength="6.60" lengthAdjust="spacingAndGlyphs" font-weight="bold" fill="#000" stroke="#000" stroke-width="0.35">F</text>
<text x="427.00" y="190.30" font-size="8.5" stroke="#2a2a2a" stroke-width="0.12" textLength="54.80" lengthAdjust="spacingAndGlyphs" fill="#2a2a2a">Outside alone</text>
<path d="M396.40,195.60V262.38" stroke="#1c1c1c" stroke-width="1.5" fill="none"/>
<path d="M395.65,261.70H512.80" stroke="#1c1c1c" stroke-width="1.35" fill="none"/>
<path d="M393.40,258.50H396.40M393.40,243.97H396.40M393.40,229.45H396.40M393.40,214.93H396.40M393.40,200.40H396.40M403.20,261.70V264.70M423.45,261.70V264.70M443.70,261.70V264.70M463.95,261.70V264.70M484.20,261.70V264.70M504.45,261.70V264.70" stroke="#1c1c1c" stroke-width="1.1" fill="none"/>
<text x="390.00" y="260.80" font-size="6.5" text-anchor="end" stroke="#2a2a2a" stroke-width="0.12" textLength="3.40" lengthAdjust="spacingAndGlyphs" fill="#2a2a2a">0</text>
<text x="390.00" y="246.28" font-size="6.5" text-anchor="end" stroke="#2a2a2a" stroke-width="0.12" textLength="6.80" lengthAdjust="spacingAndGlyphs" fill="#2a2a2a">10</text>
<text x="390.00" y="231.75" font-size="6.5" text-anchor="end" stroke="#2a2a2a" stroke-width="0.12" textLength="6.80" lengthAdjust="spacingAndGlyphs" fill="#2a2a2a">20</text>
<text x="390.00" y="217.23" font-size="6.5" text-anchor="end" stroke="#2a2a2a" stroke-width="0.12" textLength="6.80" lengthAdjust="spacingAndGlyphs" fill="#2a2a2a">30</text>
<text x="390.00" y="202.70" font-size="6.5" text-anchor="end" stroke="#2a2a2a" stroke-width="0.12" textLength="6.80" lengthAdjust="spacingAndGlyphs" fill="#2a2a2a">40</text>
<text x="403.20" y="273.80" font-size="6.9" text-anchor="middle" stroke="#2a2a2a" stroke-width="0.12" textLength="3.75" lengthAdjust="spacingAndGlyphs" fill="#2a2a2a">0</text>
<text x="423.45" y="273.80" font-size="6.9" text-anchor="middle" stroke="#2a2a2a" stroke-width="0.12" textLength="3.75" lengthAdjust="spacingAndGlyphs" fill="#2a2a2a">5</text>
<text x="443.70" y="273.80" font-size="6.9" text-anchor="middle" stroke="#2a2a2a" stroke-width="0.12" textLength="7.50" lengthAdjust="spacingAndGlyphs" fill="#2a2a2a">10</text>
<text x="463.95" y="273.80" font-size="6.9" text-anchor="middle" stroke="#2a2a2a" stroke-width="0.12" textLength="7.50" lengthAdjust="spacingAndGlyphs" fill="#2a2a2a">15</text>
<text x="484.20" y="273.80" font-size="6.9" text-anchor="middle" stroke="#2a2a2a" stroke-width="0.12" textLength="7.50" lengthAdjust="spacingAndGlyphs" fill="#2a2a2a">20</text>
<text x="504.45" y="273.80" font-size="6.9" text-anchor="middle" stroke="#2a2a2a" stroke-width="0.12" textLength="7.50" lengthAdjust="spacingAndGlyphs" fill="#2a2a2a">25</text>
<text transform="translate(377.20,228.60) rotate(-90)" x="0" y="0" font-size="8.2" text-anchor="middle" stroke="#2a2a2a" stroke-width="0.12" textLength="38.20" lengthAdjust="spacingAndGlyphs" fill="#2a2a2a">Cum. Inc (%)</text>
<text x="454.60" y="286.40" font-size="9.8" text-anchor="middle" stroke="#2a2a2a" stroke-width="0.12" textLength="16.00" lengthAdjust="spacingAndGlyphs" fill="#2a2a2a">Years</text>
<text x="432.00" y="200.30" font-size="6.0" stroke="#2a2a2a" stroke-width="0.08" textLength="23.90" lengthAdjust="spacingAndGlyphs" font-weight="bold" fill="#2a2a2a">Events/N</text>
<text x="459.00" y="200.30" font-size="6.0" stroke="#2a2a2a" stroke-width="0.08" textLength="8.40" lengthAdjust="spacingAndGlyphs" font-weight="bold" fill="#2a2a2a">Yrs</text>
<text x="477.00" y="200.30" font-size="6.0" stroke="#2a2a2a" stroke-width="0.08" textLength="29.80" lengthAdjust="spacingAndGlyphs" font-weight="bold" fill="#2a2a2a">% (95% CI)</text>
<text x="435.50" y="208.90" font-size="6.0" stroke="#2a2a2a" stroke-width="0.12" textLength="17.00" lengthAdjust="spacingAndGlyphs" fill="#2a2a2a">25/188</text>
<text x="463.40" y="208.90" font-size="6.0" text-anchor="middle" stroke="#2a2a2a" stroke-width="0.12" textLength="3.00" lengthAdjust="spacingAndGlyphs" fill="#2a2a2a">5</text>
<text x="473.20" y="208.90" font-size="6.0" stroke="#2a2a2a" stroke-width="0.12" textLength="36.70" lengthAdjust="spacingAndGlyphs" fill="#2a2a2a">9.8 (5.8-15.0%)</text>
<text x="463.60" y="217.50" font-size="6.0" text-anchor="middle" stroke="#2a2a2a" stroke-width="0.12" textLength="5.80" lengthAdjust="spacingAndGlyphs" fill="#2a2a2a">10</text>
<text x="470.90" y="217.50" font-size="6.0" stroke="#2a2a2a" stroke-width="0.12" textLength="42.00" lengthAdjust="spacingAndGlyphs" fill="#2a2a2a">18.1 (11.7-25.6%)</text>
<path d="M403.81,257.48H404.58V256.67H405.35V255.36H406.12V254.37H406.89V254.13H407.65V252.69H408.42V252.44H409.19V251.12H409.96V250.13H410.73V250.15H411.50V249.20H412.34V249.14H413.18V248.90H414.02V249.08H414.86V248.93H415.70V248.88H416.54V248.71H417.38V248.48H418.19V247.88H419.00V247.68H419.81V247.11H420.62V246.21H421.43V246.47H422.24V245.42H423.04V244.99H423.86V243.92H424.66V243.52H425.47V242.78H426.28V241.36H427.09V241.11H427.90V240.33H428.71V239.18H429.52V238.49H430.33V237.47H431.14V237.32H431.95V236.34H432.76V235.41H433.57V235.14H434.38V234.19H435.19V234.16H436.00V233.30H436.81V233.56H437.62V232.96H438.44V232.20H439.25V231.92H454.63H454.63V227.27H493.11" fill="none" stroke="#AC1540" stroke-width="1.8" stroke-linejoin="miter" stroke-linecap="butt"/>
<path d="M409.27,249.52V252.72M412.51,247.54V250.74M414.54,247.48V250.68M416.16,247.28V250.48M418.59,246.28V249.48M420.62,244.61V247.81M424.66,241.92V245.12M426.69,239.76V242.96M429.93,236.89V240.09M431.55,235.72V238.92M433.98,233.54V236.74M436.41,231.70V234.90M439.65,230.32V233.52M442.08,230.32V233.52M445.72,230.32V233.52M448.56,230.32V233.52M455.85,225.67V228.87M457.47,225.67V228.87M459.09,225.67V228.87M460.71,225.67V228.87M462.33,225.67V228.87M463.95,225.67V228.87M467.19,225.67V228.87M470.02,225.67V228.87M482.17,225.67V228.87M493.11,225.67V228.87" fill="none" stroke="#AC1540" stroke-width="1.1"/>
<text x="397.70" y="296.30" font-size="6.4" stroke="#2a2a2a" stroke-width="0.12" textLength="30.00" lengthAdjust="spacingAndGlyphs" fill="#2a2a2a">No. at risk</text>
<text x="403.20" y="306.70" font-size="7.3" text-anchor="middle" stroke="#AC1540" stroke-width="0.28" textLength="10.95" lengthAdjust="spacingAndGlyphs" fill="#AC1540">188</text>
<text x="423.45" y="306.70" font-size="7.3" text-anchor="middle" stroke="#AC1540" stroke-width="0.28" textLength="7.30" lengthAdjust="spacingAndGlyphs" fill="#AC1540">92</text>
<text x="443.70" y="306.70" font-size="7.3" text-anchor="middle" stroke="#AC1540" stroke-width="0.28" textLength="7.30" lengthAdjust="spacingAndGlyphs" fill="#AC1540">32</text>
<text x="463.95" y="306.70" font-size="7.3" text-anchor="middle" stroke="#AC1540" stroke-width="0.28" textLength="3.65" lengthAdjust="spacingAndGlyphs" fill="#AC1540">8</text>
<text x="484.20" y="306.70" font-size="7.3" text-anchor="middle" stroke="#AC1540" stroke-width="0.28" textLength="3.65" lengthAdjust="spacingAndGlyphs" fill="#AC1540">2</text>
<text x="7.20" y="327.30" font-size="12.2" textLength="9.00" lengthAdjust="spacingAndGlyphs" font-weight="bold" fill="#000" stroke="#000" stroke-width="0.35">G</text>
<text x="84.00" y="333.90" font-size="8.5" stroke="#2a2a2a" stroke-width="0.12" textLength="46.40" lengthAdjust="spacingAndGlyphs" fill="#2a2a2a">Inside alone</text>
<path d="M50.10,339.50V402.07" stroke="#1c1c1c" stroke-width="1.5" fill="none"/>
<path d="M49.35,401.40H164.60" stroke="#1c1c1c" stroke-width="1.35" fill="none"/>
<path d="M47.10,397.70H50.10M47.10,384.35H50.10M47.10,371.00H50.10M47.10,357.65H50.10M47.10,344.30H50.10M56.90,401.40V404.40M76.80,401.40V404.40M96.70,401.40V404.40M116.60,401.40V404.40M136.50,401.40V404.40M156.40,401.40V404.40" stroke="#1c1c1c" stroke-width="1.1" fill="none"/>
<text x="43.70" y="400.00" font-size="6.5" text-anchor="end" stroke="#2a2a2a" stroke-width="0.12" textLength="3.40" lengthAdjust="spacingAndGlyphs" fill="#2a2a2a">0</text>
<text x="43.70" y="386.65" font-size="6.5" text-anchor="end" stroke="#2a2a2a" stroke-width="0.12" textLength="6.80" lengthAdjust="spacingAndGlyphs" fill="#2a2a2a">10</text>
<text x="43.70" y="373.30" font-size="6.5" text-anchor="end" stroke="#2a2a2a" stroke-width="0.12" textLength="6.80" lengthAdjust="spacingAndGlyphs" fill="#2a2a2a">20</text>
<text x="43.70" y="359.95" font-size="6.5" text-anchor="end" stroke="#2a2a2a" stroke-width="0.12" textLength="6.80" lengthAdjust="spacingAndGlyphs" fill="#2a2a2a">30</text>
<text x="43.70" y="346.60" font-size="6.5" text-anchor="end" stroke="#2a2a2a" stroke-width="0.12" textLength="6.80" lengthAdjust="spacingAndGlyphs" fill="#2a2a2a">40</text>
<text x="56.90" y="413.40" font-size="6.9" text-anchor="middle" stroke="#2a2a2a" stroke-width="0.12" textLength="3.75" lengthAdjust="spacingAndGlyphs" fill="#2a2a2a">0</text>
<text x="76.80" y="413.40" font-size="6.9" text-anchor="middle" stroke="#2a2a2a" stroke-width="0.12" textLength="3.75" lengthAdjust="spacingAndGlyphs" fill="#2a2a2a">5</text>
<text x="96.70" y="413.40" font-size="6.9" text-anchor="middle" stroke="#2a2a2a" stroke-width="0.12" textLength="7.50" lengthAdjust="spacingAndGlyphs" fill="#2a2a2a">10</text>
<text x="116.60" y="413.40" font-size="6.9" text-anchor="middle" stroke="#2a2a2a" stroke-width="0.12" textLength="7.50" lengthAdjust="spacingAndGlyphs" fill="#2a2a2a">15</text>
<text x="136.50" y="413.40" font-size="6.9" text-anchor="middle" stroke="#2a2a2a" stroke-width="0.12" textLength="7.50" lengthAdjust="spacingAndGlyphs" fill="#2a2a2a">20</text>
<text x="156.40" y="413.40" font-size="6.9" text-anchor="middle" stroke="#2a2a2a" stroke-width="0.12" textLength="7.50" lengthAdjust="spacingAndGlyphs" fill="#2a2a2a">25</text>
<text transform="translate(31.20,369.90) rotate(-90)" x="0" y="0" font-size="8.2" text-anchor="middle" stroke="#2a2a2a" stroke-width="0.12" textLength="39.70" lengthAdjust="spacingAndGlyphs" fill="#2a2a2a">Cum. Inc. (%)</text>
<text x="107.35" y="426.00" font-size="9.8" text-anchor="middle" stroke="#2a2a2a" stroke-width="0.12" textLength="16.00" lengthAdjust="spacingAndGlyphs" fill="#2a2a2a">Years</text>
<text x="95.00" y="350.00" font-size="6.0" stroke="#2a2a2a" stroke-width="0.12" textLength="24.60" lengthAdjust="spacingAndGlyphs" fill="#2a2a2a">p= 0.2490</text>
<path d="M58.09,396.90H60.08V395.70H61.68V394.36H65.66V393.96H68.04V393.43H69.24V392.89H135.70" fill="none" stroke="#E8B62A" stroke-width="1.35" stroke-linejoin="miter" stroke-linecap="butt"/>
<path d="M61.64,393.90V397.50M63.94,392.56V396.16M69.32,391.09V394.69M74.13,391.09V394.69M76.04,391.09V394.69M80.78,391.09V394.69M83.73,391.09V394.69M87.55,391.09V394.69M90.45,391.09V394.69M92.32,391.09V394.69M97.10,391.09V394.69M101.08,391.09V394.69M103.86,391.09V394.69M106.65,391.09V394.69M109.83,391.09V394.69M113.42,391.09V394.69M118.19,391.09V394.69M122.17,391.09V394.69M135.70,391.09V394.69" fill="none" stroke="#E8B62A" stroke-width="1.7"/>
<path d="M57.30,397.70H145.65" fill="none" stroke="#41609E" stroke-width="1.05" stroke-linejoin="miter" stroke-linecap="butt"/>
<path d="M60.64,396.20V399.20M62.55,396.20V399.20M66.45,396.20V399.20M75.09,396.20V399.20M79.98,396.20V399.20M85.56,396.20V399.20M89.54,396.20V399.20M93.52,396.20V399.20M100.28,396.20V399.20M108.64,396.20V399.20M117.40,396.20V399.20M145.26,396.20V399.20" fill="none" stroke="#41609E" stroke-width="1.4"/>
<text x="51.40" y="435.80" font-size="6.4" stroke="#2a2a2a" stroke-width="0.12" textLength="30.00" lengthAdjust="spacingAndGlyphs" fill="#2a2a2a">No. at risk</text>
<text x="43.60" y="445.80" font-size="6.4" text-anchor="end" stroke="#2a2a2a" stroke-width="0.12" textLength="36.80" lengthAdjust="spacingAndGlyphs" fill="#2a2a2a">BM negative</text>
<text x="56.90" y="445.80" font-size="7.3" text-anchor="middle" stroke="#E8B62A" stroke-width="0.28" textLength="10.95" lengthAdjust="spacingAndGlyphs" fill="#E8B62A">148</text>
<text x="76.80" y="445.80" font-size="7.3" text-anchor="middle" stroke="#E8B62A" stroke-width="0.28" textLength="7.30" lengthAdjust="spacingAndGlyphs" fill="#E8B62A">78</text>
<text x="96.70" y="445.80" font-size="7.3" text-anchor="middle" stroke="#E8B62A" stroke-width="0.28" textLength="7.30" lengthAdjust="spacingAndGlyphs" fill="#E8B62A">26</text>
<text x="116.60" y="445.80" font-size="7.3" text-anchor="middle" stroke="#E8B62A" stroke-width="0.28" textLength="3.65" lengthAdjust="spacingAndGlyphs" fill="#E8B62A">6</text>
<text x="136.50" y="445.80" font-size="7.3" text-anchor="middle" stroke="#E8B62A" stroke-width="0.28" textLength="3.65" lengthAdjust="spacingAndGlyphs" fill="#E8B62A">0</text>
<text x="43.60" y="455.80" font-size="6.4" text-anchor="end" stroke="#2a2a2a" stroke-width="0.12" textLength="27.60" lengthAdjust="spacingAndGlyphs" fill="#2a2a2a">Not done</text>
<text x="56.90" y="455.80" font-size="7.3" text-anchor="middle" stroke="#41609E" stroke-width="0.28" textLength="7.30" lengthAdjust="spacingAndGlyphs" fill="#41609E">40</text>
<text x="76.80" y="455.80" font-size="7.3" text-anchor="middle" stroke="#41609E" stroke-width="0.28" textLength="7.30" lengthAdjust="spacingAndGlyphs" fill="#41609E">14</text>
<text x="96.70" y="455.80" font-size="7.3" text-anchor="middle" stroke="#41609E" stroke-width="0.28" textLength="3.65" lengthAdjust="spacingAndGlyphs" fill="#41609E">6</text>
<text x="116.60" y="455.80" font-size="7.3" text-anchor="middle" stroke="#41609E" stroke-width="0.28" textLength="3.65" lengthAdjust="spacingAndGlyphs" fill="#41609E">2</text>
<text x="136.50" y="455.80" font-size="7.3" text-anchor="middle" stroke="#41609E" stroke-width="0.28" textLength="3.65" lengthAdjust="spacingAndGlyphs" fill="#41609E">2</text>
<text x="176.70" y="327.30" font-size="12.2" textLength="8.00" lengthAdjust="spacingAndGlyphs" font-weight="bold" fill="#000" stroke="#000" stroke-width="0.35">H</text>
<text x="240.60" y="333.90" font-size="8.5" stroke="#2a2a2a" stroke-width="0.12" textLength="71.00" lengthAdjust="spacingAndGlyphs" fill="#2a2a2a">Inside and outside</text>
<path d="M218.80,339.50V402.07" stroke="#1c1c1c" stroke-width="1.5" fill="none"/>
<path d="M218.05,401.40H332.90" stroke="#1c1c1c" stroke-width="1.35" fill="none"/>
<path d="M215.80,397.70H218.80M215.80,384.35H218.80M215.80,371.00H218.80M215.80,357.65H218.80M215.80,344.30H218.80M225.50,401.40V404.40M245.35,401.40V404.40M265.20,401.40V404.40M285.05,401.40V404.40M304.90,401.40V404.40M324.75,401.40V404.40" stroke="#1c1c1c" stroke-width="1.1" fill="none"/>
<text x="212.40" y="400.00" font-size="6.5" text-anchor="end" stroke="#2a2a2a" stroke-width="0.12" textLength="3.40" lengthAdjust="spacingAndGlyphs" fill="#2a2a2a">0</text>
<text x="212.40" y="386.65" font-size="6.5" text-anchor="end" stroke="#2a2a2a" stroke-width="0.12" textLength="6.80" lengthAdjust="spacingAndGlyphs" fill="#2a2a2a">10</text>
<text x="212.40" y="373.30" font-size="6.5" text-anchor="end" stroke="#2a2a2a" stroke-width="0.12" textLength="6.80" lengthAdjust="spacingAndGlyphs" fill="#2a2a2a">20</text>
<text x="212.40" y="359.95" font-size="6.5" text-anchor="end" stroke="#2a2a2a" stroke-width="0.12" textLength="6.80" lengthAdjust="spacingAndGlyphs" fill="#2a2a2a">30</text>
<text x="212.40" y="346.60" font-size="6.5" text-anchor="end" stroke="#2a2a2a" stroke-width="0.12" textLength="6.80" lengthAdjust="spacingAndGlyphs" fill="#2a2a2a">40</text>
<text x="225.50" y="413.40" font-size="6.9" text-anchor="middle" stroke="#2a2a2a" stroke-width="0.12" textLength="3.75" lengthAdjust="spacingAndGlyphs" fill="#2a2a2a">0</text>
<text x="245.35" y="413.40" font-size="6.9" text-anchor="middle" stroke="#2a2a2a" stroke-width="0.12" textLength="3.75" lengthAdjust="spacingAndGlyphs" fill="#2a2a2a">5</text>
<text x="265.20" y="413.40" font-size="6.9" text-anchor="middle" stroke="#2a2a2a" stroke-width="0.12" textLength="7.50" lengthAdjust="spacingAndGlyphs" fill="#2a2a2a">10</text>
<text x="285.05" y="413.40" font-size="6.9" text-anchor="middle" stroke="#2a2a2a" stroke-width="0.12" textLength="7.50" lengthAdjust="spacingAndGlyphs" fill="#2a2a2a">15</text>
<text x="304.90" y="413.40" font-size="6.9" text-anchor="middle" stroke="#2a2a2a" stroke-width="0.12" textLength="7.50" lengthAdjust="spacingAndGlyphs" fill="#2a2a2a">20</text>
<text x="324.75" y="413.40" font-size="6.9" text-anchor="middle" stroke="#2a2a2a" stroke-width="0.12" textLength="7.50" lengthAdjust="spacingAndGlyphs" fill="#2a2a2a">25</text>
<text transform="translate(200.00,369.90) rotate(-90)" x="0" y="0" font-size="8.2" text-anchor="middle" stroke="#2a2a2a" stroke-width="0.12" textLength="39.70" lengthAdjust="spacingAndGlyphs" fill="#2a2a2a">Cum. Inc. (%)</text>
<text x="275.85" y="426.00" font-size="9.8" text-anchor="middle" stroke="#2a2a2a" stroke-width="0.12" textLength="16.00" lengthAdjust="spacingAndGlyphs" fill="#2a2a2a">Years</text>
<text x="263.50" y="350.00" font-size="6.0" stroke="#2a2a2a" stroke-width="0.12" textLength="25.10" lengthAdjust="spacingAndGlyphs" fill="#2a2a2a">p= 0.1617</text>
<path d="M230.26,397.70H230.66V396.37H231.46V395.70H238.20V395.43H240.59V393.69H242.17V391.69H290.21H290.21V367.13H304.11" fill="none" stroke="#E8B62A" stroke-width="1.35" stroke-linejoin="miter" stroke-linecap="butt"/>
<path d="M232.65,393.90V397.50M234.23,393.90V397.50M236.22,393.90V397.50M242.17,389.89V393.49M244.16,389.89V393.49M245.75,389.89V393.49M250.51,389.89V393.49M253.69,389.89V393.49M256.86,389.89V393.49M259.25,389.89V393.49M261.23,389.89V393.49M265.20,389.89V393.49M267.98,389.89V393.49M270.36,389.89V393.49M272.74,389.89V393.49M275.52,389.89V393.49M278.30,389.89V393.49M281.08,389.89V393.49M283.46,389.89V393.49M285.84,389.89V393.49M304.11,365.33V368.93" fill="none" stroke="#E8B62A" stroke-width="1.7"/>
<path d="M226.69,397.70H314.03" fill="none" stroke="#41609E" stroke-width="1.05" stroke-linejoin="miter" stroke-linecap="butt"/>
<path d="M230.66,396.20V399.20M232.65,396.20V399.20M235.43,396.20V399.20M239.40,396.20V399.20M245.35,396.20V399.20M253.29,396.20V399.20M263.22,396.20V399.20M273.14,396.20V399.20M283.06,396.20V399.20M291.00,396.20V399.20M314.03,396.20V399.20" fill="none" stroke="#41609E" stroke-width="1.4"/>
<text x="220.10" y="435.80" font-size="6.4" stroke="#2a2a2a" stroke-width="0.12" textLength="30.00" lengthAdjust="spacingAndGlyphs" fill="#2a2a2a">No. at risk</text>
<text x="212.30" y="445.80" font-size="6.4" text-anchor="end" stroke="#2a2a2a" stroke-width="0.12" textLength="36.80" lengthAdjust="spacingAndGlyphs" fill="#2a2a2a">BM negative</text>
<text x="225.50" y="445.80" font-size="7.3" text-anchor="middle" stroke="#E8B62A" stroke-width="0.28" textLength="10.95" lengthAdjust="spacingAndGlyphs" fill="#E8B62A">148</text>
<text x="245.35" y="445.80" font-size="7.3" text-anchor="middle" stroke="#E8B62A" stroke-width="0.28" textLength="7.30" lengthAdjust="spacingAndGlyphs" fill="#E8B62A">78</text>
<text x="265.20" y="445.80" font-size="7.3" text-anchor="middle" stroke="#E8B62A" stroke-width="0.28" textLength="7.30" lengthAdjust="spacingAndGlyphs" fill="#E8B62A">26</text>
<text x="285.05" y="445.80" font-size="7.3" text-anchor="middle" stroke="#E8B62A" stroke-width="0.28" textLength="3.65" lengthAdjust="spacingAndGlyphs" fill="#E8B62A">6</text>
<text x="304.90" y="445.80" font-size="7.3" text-anchor="middle" stroke="#E8B62A" stroke-width="0.28" textLength="3.65" lengthAdjust="spacingAndGlyphs" fill="#E8B62A">0</text>
<text x="212.30" y="455.80" font-size="6.4" text-anchor="end" stroke="#2a2a2a" stroke-width="0.12" textLength="27.60" lengthAdjust="spacingAndGlyphs" fill="#2a2a2a">Not done</text>
<text x="225.50" y="455.80" font-size="7.3" text-anchor="middle" stroke="#41609E" stroke-width="0.28" textLength="7.30" lengthAdjust="spacingAndGlyphs" fill="#41609E">40</text>
<text x="245.35" y="455.80" font-size="7.3" text-anchor="middle" stroke="#41609E" stroke-width="0.28" textLength="7.30" lengthAdjust="spacingAndGlyphs" fill="#41609E">14</text>
<text x="265.20" y="455.80" font-size="7.3" text-anchor="middle" stroke="#41609E" stroke-width="0.28" textLength="3.65" lengthAdjust="spacingAndGlyphs" fill="#41609E">6</text>
<text x="285.05" y="455.80" font-size="7.3" text-anchor="middle" stroke="#41609E" stroke-width="0.28" textLength="3.65" lengthAdjust="spacingAndGlyphs" fill="#41609E">2</text>
<text x="304.90" y="455.80" font-size="7.3" text-anchor="middle" stroke="#41609E" stroke-width="0.28" textLength="3.65" lengthAdjust="spacingAndGlyphs" fill="#41609E">2</text>
<text x="354.10" y="327.30" font-size="12.2" textLength="2.60" lengthAdjust="spacingAndGlyphs" font-weight="bold" fill="#000" stroke="#000" stroke-width="0.35">I</text>
<text x="426.60" y="333.90" font-size="8.5" stroke="#2a2a2a" stroke-width="0.12" textLength="54.60" lengthAdjust="spacingAndGlyphs" fill="#2a2a2a">Outside alone</text>
<path d="M396.40,339.50V402.07" stroke="#1c1c1c" stroke-width="1.5" fill="none"/>
<path d="M395.65,401.40H510.70" stroke="#1c1c1c" stroke-width="1.35" fill="none"/>
<path d="M393.40,397.70H396.40M393.40,384.35H396.40M393.40,371.00H396.40M393.40,357.65H396.40M393.40,344.30H396.40M403.20,401.40V404.40M423.05,401.40V404.40M442.90,401.40V404.40M462.75,401.40V404.40M482.60,401.40V404.40M502.45,401.40V404.40" stroke="#1c1c1c" stroke-width="1.1" fill="none"/>
<text x="390.00" y="400.00" font-size="6.5" text-anchor="end" stroke="#2a2a2a" stroke-width="0.12" textLength="3.40" lengthAdjust="spacingAndGlyphs" fill="#2a2a2a">0</text>
<text x="390.00" y="386.65" font-size="6.5" text-anchor="end" stroke="#2a2a2a" stroke-width="0.12" textLength="6.80" lengthAdjust="spacingAndGlyphs" fill="#2a2a2a">10</text>
<text x="390.00" y="373.30" font-size="6.5" text-anchor="end" stroke="#2a2a2a" stroke-width="0.12" textLength="6.80" lengthAdjust="spacingAndGlyphs" fill="#2a2a2a">20</text>
<text x="390.00" y="359.95" font-size="6.5" text-anchor="end" stroke="#2a2a2a" stroke-width="0.12" textLength="6.80" lengthAdjust="spacingAndGlyphs" fill="#2a2a2a">30</text>
<text x="390.00" y="346.60" font-size="6.5" text-anchor="end" stroke="#2a2a2a" stroke-width="0.12" textLength="6.80" lengthAdjust="spacingAndGlyphs" fill="#2a2a2a">40</text>
<text x="403.20" y="413.40" font-size="6.9" text-anchor="middle" stroke="#2a2a2a" stroke-width="0.12" textLength="3.75" lengthAdjust="spacingAndGlyphs" fill="#2a2a2a">0</text>
<text x="423.05" y="413.40" font-size="6.9" text-anchor="middle" stroke="#2a2a2a" stroke-width="0.12" textLength="3.75" lengthAdjust="spacingAndGlyphs" fill="#2a2a2a">5</text>
<text x="442.90" y="413.40" font-size="6.9" text-anchor="middle" stroke="#2a2a2a" stroke-width="0.12" textLength="7.50" lengthAdjust="spacingAndGlyphs" fill="#2a2a2a">10</text>
<text x="462.75" y="413.40" font-size="6.9" text-anchor="middle" stroke="#2a2a2a" stroke-width="0.12" textLength="7.50" lengthAdjust="spacingAndGlyphs" fill="#2a2a2a">15</text>
<text x="482.60" y="413.40" font-size="6.9" text-anchor="middle" stroke="#2a2a2a" stroke-width="0.12" textLength="7.50" lengthAdjust="spacingAndGlyphs" fill="#2a2a2a">20</text>
<text x="502.45" y="413.40" font-size="6.9" text-anchor="middle" stroke="#2a2a2a" stroke-width="0.12" textLength="7.50" lengthAdjust="spacingAndGlyphs" fill="#2a2a2a">25</text>
<text transform="translate(377.40,369.90) rotate(-90)" x="0" y="0" font-size="8.2" text-anchor="middle" stroke="#2a2a2a" stroke-width="0.12" textLength="39.70" lengthAdjust="spacingAndGlyphs" fill="#2a2a2a">Cum. Inc. (%)</text>
<text x="453.55" y="426.00" font-size="9.8" text-anchor="middle" stroke="#2a2a2a" stroke-width="0.12" textLength="16.00" lengthAdjust="spacingAndGlyphs" fill="#2a2a2a">Years</text>
<text x="441.20" y="350.00" font-size="6.0" stroke="#2a2a2a" stroke-width="0.12" textLength="24.90" lengthAdjust="spacingAndGlyphs" fill="#2a2a2a">p= 0.3070</text>
<path d="M403.60,397.70H404.59V395.75H405.58V394.68H406.57V393.39H407.57V391.56H408.56V391.74H409.55V391.08H410.54V391.22H411.54V390.34H412.53V390.09H413.52V390.22H414.45V390.47H415.37V390.28H416.30V389.63H417.23V389.72H418.15V389.45H419.08V389.69H420.07V388.63H421.06V387.64H422.06V386.24H423.05V384.48H424.04V383.82H425.03V382.35H426.07V381.52H427.10V380.46H428.13V379.47H429.16V378.49H430.20V377.41H431.12V376.65H432.05V377.15H432.97V377.00H433.90V375.69H434.83V375.44H435.75V375.54H453.62V375.81H453.62V369.80H481.81" fill="none" stroke="#E8B62A" stroke-width="1.4" stroke-linejoin="miter" stroke-linecap="butt"/>
<path d="M410.35,389.33V392.83M413.52,388.47V391.97M416.30,387.88V391.38M429.00,377.72V381.22M431.78,374.90V378.40M438.53,373.79V377.29M443.69,373.79V377.29M448.86,373.79V377.29M455.60,368.05V371.55M458.78,368.05V371.55M461.96,368.05V371.55M465.93,368.05V371.55M469.90,368.05V371.55M481.81,368.05V371.55" fill="none" stroke="#E8B62A" stroke-width="1.5"/>
<path d="M403.60,397.70H405.58V395.43H406.77V392.36H407.57V387.69H410.54V383.82H417.09V379.01H420.07V373.27H437.34V364.59H492.13" fill="none" stroke="#41609E" stroke-width="1.2" stroke-linejoin="miter" stroke-linecap="butt"/>
<path d="M409.15,386.19V389.19M413.12,382.32V385.32M422.65,371.77V374.77M427.02,371.77V374.77M431.78,371.77V374.77M439.72,363.09V366.09M445.68,363.09V366.09M454.81,363.09V366.09M462.35,363.09V366.09M492.13,363.09V366.09" fill="none" stroke="#41609E" stroke-width="1.1"/>
<text x="397.70" y="435.80" font-size="6.4" stroke="#2a2a2a" stroke-width="0.12" textLength="30.00" lengthAdjust="spacingAndGlyphs" fill="#2a2a2a">No. at risk</text>
<text x="389.90" y="445.80" font-size="6.4" text-anchor="end" stroke="#2a2a2a" stroke-width="0.12" textLength="36.80" lengthAdjust="spacingAndGlyphs" fill="#2a2a2a">BM negative</text>
<text x="403.20" y="445.80" font-size="7.3" text-anchor="middle" stroke="#E8B62A" stroke-width="0.28" textLength="10.95" lengthAdjust="spacingAndGlyphs" fill="#E8B62A">148</text>
<text x="423.05" y="445.80" font-size="7.3" text-anchor="middle" stroke="#E8B62A" stroke-width="0.28" textLength="7.30" lengthAdjust="spacingAndGlyphs" fill="#E8B62A">78</text>
<text x="442.90" y="445.80" font-size="7.3" text-anchor="middle" stroke="#E8B62A" stroke-width="0.28" textLength="7.30" lengthAdjust="spacingAndGlyphs" fill="#E8B62A">26</text>
<text x="462.75" y="445.80" font-size="7.3" text-anchor="middle" stroke="#E8B62A" stroke-width="0.28" textLength="3.65" lengthAdjust="spacingAndGlyphs" fill="#E8B62A">6</text>
<text x="482.60" y="445.80" font-size="7.3" text-anchor="middle" stroke="#E8B62A" stroke-width="0.28" textLength="3.65" lengthAdjust="spacingAndGlyphs" fill="#E8B62A">0</text>
<text x="389.90" y="455.80" font-size="6.4" text-anchor="end" stroke="#2a2a2a" stroke-width="0.12" textLength="27.60" lengthAdjust="spacingAndGlyphs" fill="#2a2a2a">Not done</text>
<text x="403.20" y="455.80" font-size="7.3" text-anchor="middle" stroke="#41609E" stroke-width="0.28" textLength="7.30" lengthAdjust="spacingAndGlyphs" fill="#41609E">40</text>
<text x="423.05" y="455.80" font-size="7.3" text-anchor="middle" stroke="#41609E" stroke-width="0.28" textLength="7.30" lengthAdjust="spacingAndGlyphs" fill="#41609E">14</text>
<text x="442.90" y="455.80" font-size="7.3" text-anchor="middle" stroke="#41609E" stroke-width="0.28" textLength="3.65" lengthAdjust="spacingAndGlyphs" fill="#41609E">6</text>
<text x="462.75" y="455.80" font-size="7.3" text-anchor="middle" stroke="#41609E" stroke-width="0.28" textLength="3.65" lengthAdjust="spacingAndGlyphs" fill="#41609E">2</text>
<text x="482.60" y="455.80" font-size="7.3" text-anchor="middle" stroke="#41609E" stroke-width="0.28" textLength="3.65" lengthAdjust="spacingAndGlyphs" fill="#41609E">2</text>
<rect x="0" y="0" width="1.2" height="466" fill="#000"/>
<rect x="0" y="0" width="520" height="1.25" fill="#000"/>
<rect x="518.8" y="0" width="1.2" height="466" fill="#000"/>
<rect x="0" y="464.8" width="520" height="1.2" fill="#000"/>
</svg>
</body></html>
